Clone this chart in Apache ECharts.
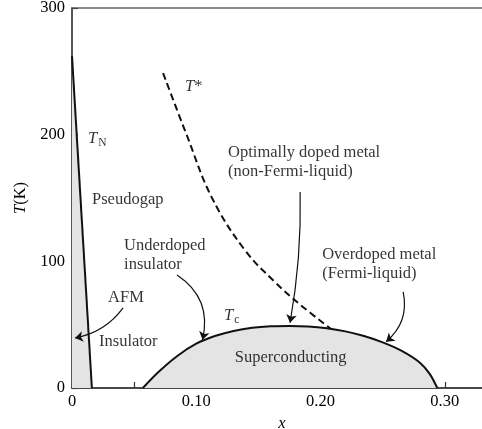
<!DOCTYPE html>
<html>
<head>
<meta charset="utf-8">
<script src="https://cdn.jsdelivr.net/npm/echarts@6/dist/echarts.min.js"></script>
<style>
  html, body { margin: 0; padding: 0; background: #fff; }
  #chart { width: 482px; height: 429px; }
</style>
</head>
<body>
<div id="chart"></div>
<script>
// Néel temperature boundary T_N (x, K)
const neelX = [0, 0.016];
const neelT = [262, 0];

// Pseudogap crossover T* (x, K)
const pseudoX = [0.0733, 0.0926, 0.1127, 0.139, 0.163, 0.184, 0.208];
const pseudoT = [248.6, 199, 150, 109, 84, 65.5, 47];

// Superconducting dome T_c (x, K)
const domeX = [0.057, 0.07, 0.085, 0.10, 0.115, 0.13, 0.145, 0.16, 0.175, 0.19, 0.205, 0.22, 0.235, 0.25, 0.265, 0.28, 0.288, 0.294];
const domeT = [0, 13, 25.5, 35, 41, 45, 47.5, 48.7, 49, 48.6, 47.2, 44.7, 41, 36, 29.5, 20, 11, 0];

// Axis ticks
const yTicks = [0, 100, 200, 300];
const xTicks = [0.05, 0.10, 0.15, 0.20, 0.25, 0.30];
const xTickLabels = ['0', '0.10', '0.20', '0.30'];
const xLabelValues = [0, 0.10, 0.20, 0.30];

// Region labels, anchored at their left edge (x, K)
const notes = [
  { text: '{i|T}{sub|N}', at: [0.0129, 197] },
  { text: '{i|T}*', at: [0.091, 237.6] },
  { text: 'Pseudogap', at: [0.0161, 148.4] },
  { text: 'Underdoped\ninsulator', at: [0.0419, 105] },
  { text: 'AFM', at: [0.029, 71] },
  { text: 'Insulator', at: [0.0217, 36.3] },
  { text: '{i|T}{sub|c}', at: [0.1224, 57] },
  { text: 'Superconducting', at: [0.131, 23.7] },
  { text: 'Optimally doped metal\n(non-Fermi-liquid)', at: [0.1256, 178.4] },
  { text: 'Overdoped metal\n(Fermi-liquid)', at: [0.2013, 97.9] }
];

// Pointer arrows: from label to boundary (x, K)
const pointers = [
  { from: [0.0411, 63.2], to: [0.0024, 39.5], bend: 0.2 },
  { from: [0.0845, 89.2], to: [0.105, 38], bend: 0.35 },
  { from: [0.1836, 154.7], to: [0.1755, 51.5], bend: 0.05 },
  { from: [0.2665, 75.8], to: [0.2528, 36.5], bend: 0.3 }
];

const zip = (xs, ys) => xs.map((x, i) => [x, ys[i]]);
const SERIF = '"Liberation Serif", "DejaVu Serif", serif';
const INK = '#000';
const FILL = '#e4e4e4';

const richText = {
  i: { fontStyle: 'italic', fontFamily: SERIF, fontSize: 16.5, color: INK },
  sub: { fontFamily: SERIF, fontSize: 11.5, color: INK, padding: [9, 0, 0, 1] }
};

const chart = echarts.init(document.getElementById('chart'), null, { renderer: 'canvas' });

chart.setOption({
  animation: false,
  backgroundColor: '#fff',
  grid: {
    show: true, left: 72, right: -10, top: 8, bottom: 41,
    outerBoundsMode: 'none', containLabel: false,
    borderColor: '#666', borderWidth: 1.5, backgroundColor: 'transparent'
  },
  xAxis: {
    type: 'value', min: 0, max: 0.338,
    name: '{i|x}', nameLocation: 'middle', nameGap: 26,
    nameTextStyle: { rich: richText },
    axisLine: { lineStyle: { color: '#333', width: 1.5 } },
    axisTick: { inside: true, length: 6, customValues: xTicks, lineStyle: { color: '#333', width: 1.2 } },
    splitLine: { show: false },
    axisLabel: {
      fontFamily: SERIF, fontSize: 16.5, color: INK, margin: 5,
      customValues: xLabelValues,
      formatter: v => xTickLabels[xLabelValues.findIndex(t => Math.abs(t - v) < 1e-9)]
    }
  },
  yAxis: {
    type: 'value', min: yTicks[0], max: yTicks[yTicks.length - 1], interval: 100,
    name: '{i|T}(K)', nameLocation: 'middle', nameGap: 41, nameRotate: 90,
    nameTextStyle: { fontFamily: SERIF, fontSize: 16.5, color: INK, rich: richText },
    axisLine: { lineStyle: { color: '#444', width: 1.5 } },
    axisTick: { inside: true, length: 6, lineStyle: { color: '#444', width: 1.2 } },
    splitLine: { show: false },
    axisLabel: { fontFamily: SERIF, fontSize: 16.5, color: INK, margin: 7 }
  },
  series: [
    {
      name: 'AFM', type: 'line', data: zip(neelX, neelT),
      showSymbol: false, lineStyle: { color: '#111', width: 2 },
      areaStyle: { color: FILL, opacity: 1, origin: 'start' }, z: 3
    },
    {
      name: 'Superconducting', type: 'line', data: zip(domeX, domeT), smooth: 0.3,
      showSymbol: false, lineStyle: { color: '#111', width: 2 },
      areaStyle: { color: FILL, opacity: 1, origin: 'start' }, z: 3
    },
    {
      name: 'T*', type: 'line', data: zip(pseudoX, pseudoT), smooth: 0.4,
      showSymbol: false, lineStyle: { color: '#111', width: 2, type: [7, 4] }, z: 4
    },
    {
      name: 'pointers', type: 'lines', coordinateSystem: 'cartesian2d',
      symbol: ['none', 'arrow'], symbolSize: 8,
      data: pointers.map(p => ({ coords: [p.from, p.to], lineStyle: { curveness: p.bend } })),
      lineStyle: { color: '#111', width: 1.2, opacity: 1 }, z: 5
    },
    {
      name: 'notes', type: 'scatter', symbolSize: 0, silent: true,
      data: notes.map(n => ({ value: n.at, label: { formatter: n.text } })),
      label: {
        show: true, position: 'right', distance: 0, align: 'left',
        fontFamily: SERIF, fontSize: 16.5, color: INK, lineHeight: 19,
        rich: richText
      }, z: 6
    }
  ]
});
</script>
</body>
</html>
